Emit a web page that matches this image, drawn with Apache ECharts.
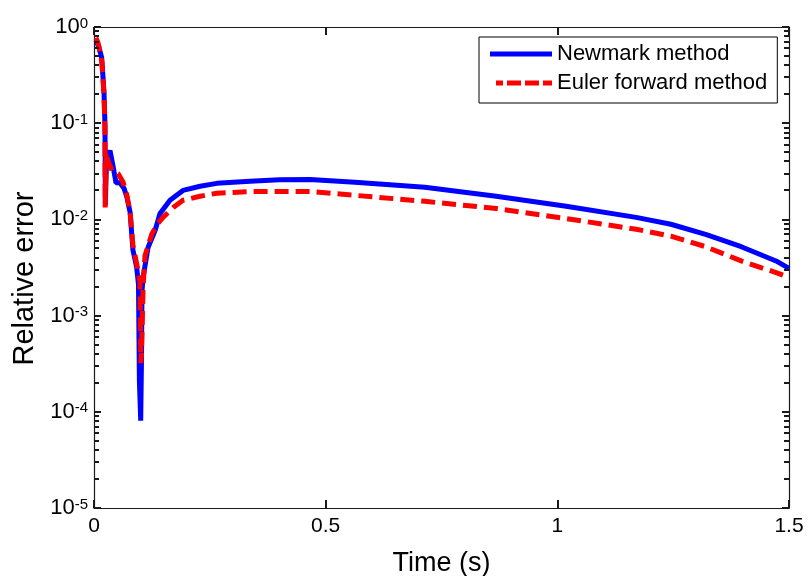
<!DOCTYPE html>
<html>
<head>
<meta charset="utf-8">
<script src="https://cdn.jsdelivr.net/npm/echarts@6/dist/echarts.min.js"></script>
<style>html,body{margin:0;padding:0;background:#fff}#chart{width:808px;height:576px}</style>
</head>
<body>
<div id="chart"></div>
<script>
// ---- data ----
const seriesNames = ['Newmark method', 'Euler forward method'];
const newmarkTime = [0.004,0.008,0.012,0.0166,0.0216,0.0237,0.0245,0.0255,0.027,0.0345,0.041,0.0475,0.056,0.065,0.071,0.078,0.084,0.092,0.096,0.098,0.1008,0.1025,0.1036,0.106,0.1166,0.132,0.1425,0.164,0.192,0.229,0.265,0.337,0.40,0.466,0.563,0.714,0.868,1.019,1.17,1.245,1.32,1.397,1.472,1.5];
const newmarkErr  = [0.73,0.66,0.58,0.48,0.21,0.095,0.014,0.014,0.041,0.052,0.036,0.024,0.024,0.021,0.017,0.0118,0.0048,0.0032,0.0021,0.00021,0.000081,0.00035,0.0018,0.0025,0.0051,0.0077,0.0115,0.0158,0.020,0.0221,0.0237,0.0249,0.0258,0.026,0.0243,0.0216,0.0174,0.0137,0.0105,0.0089,0.0070,0.0052,0.0037,0.0031];
const eulerTime = [0.004,0.008,0.011,0.017,0.0216,0.0237,0.0242,0.025,0.026,0.030,0.039,0.052,0.0626,0.071,0.078,0.084,0.093,0.099,0.1012,0.1025,0.106,0.110,0.125,0.138,0.149,0.171,0.192,0.229,0.265,0.337,0.466,0.563,0.714,0.868,1.019,1.17,1.245,1.32,1.397,1.472,1.5];
const eulerErr  = [0.77,0.70,0.62,0.43,0.195,0.085,0.0133,0.0133,0.050,0.041,0.032,0.030,0.0245,0.0178,0.0118,0.0054,0.0033,0.0023,0.00032,0.0004,0.0020,0.0042,0.0071,0.0091,0.0105,0.0133,0.0158,0.0174,0.0187,0.0195,0.0195,0.0178,0.0154,0.013,0.0102,0.0079,0.0067,0.0052,0.0037,0.0028,0.0025];
const xMin = 0, xMax = 1.5, xInterval = 0.5;
const yMin = 1e-5, yMax = 1;
const minorTickValues = [];
for (let e = -5; e < 0; e++) for (let k = 2; k <= 9; k++) minorTickValues.push(k * Math.pow(10, e));

// ---- chart ----
const FONT = '"Liberation Sans", Arial, sans-serif';
const AXC = '#1a1a1a';
const chart = echarts.init(document.getElementById('chart'), null, {renderer: 'canvas'});
const zip = (a, b) => a.map((v, i) => [v, b[i]]);

const yLabel = {
  show: true, margin: 6, fontFamily: FONT,
  formatter: v => '{b|10}{s|' + Math.round(Math.log10(v)) + '}',
  rich: {
    b: {fontSize: 22, fontFamily: FONT, color: '#000', padding: [7, 0, 7, 0], lineHeight: 22},
    s: {fontSize: 15, fontFamily: FONT, color: '#000', verticalAlign: 'top', lineHeight: 15}
  }
};
const tickStyle = {color: AXC, width: 2};

chart.setOption({
  animation: false,
  backgroundColor: '#fff',
  grid: {left: 94, right: 19, top: 27, bottom: 68, containLabel: false, outerBoundsMode: 'none'},
  legend: {
    orient: 'vertical', left: 479, top: 37,
    padding: [6, 10, 9, 11], itemGap: 7, itemWidth: 62, itemHeight: 5,
    backgroundColor: '#fff', borderColor: '#000', borderWidth: 1, borderRadius: 0,
    textStyle: {fontSize: 22, fontFamily: FONT, color: '#000'},
    data: [
      {name: seriesNames[0], icon: 'path://M0,0H62V5H0Z'},
      {name: seriesNames[1], icon: 'path://M6,0H13V5H6Z M17,0H31V5H17Z M35,0H49V5H35Z M53,0H62V5H53Z M0,0H0.01V0.01H0Z'}
    ]
  },
  xAxis: [{
    type: 'value', min: xMin, max: xMax, interval: xInterval, position: 'bottom',
    name: 'Time (s)', nameLocation: 'middle', nameGap: 42,
    nameTextStyle: {fontSize: 27, fontFamily: FONT, color: '#000'},
    axisLine: {show: true, onZero: false, lineStyle: {color: AXC, width: 1.2}},
    axisTick: {show: true, inside: true, length: 8, lineStyle: tickStyle},
    axisLabel: {show: true, fontSize: 21, fontFamily: FONT, color: '#000', margin: 8},
    splitLine: {show: false}
  }, {
    type: 'value', min: xMin, max: xMax, interval: xInterval, position: 'top',
    axisLine: {show: true, onZero: false, lineStyle: {color: AXC, width: 1.2}},
    axisTick: {show: true, inside: true, length: 8, lineStyle: tickStyle},
    axisLabel: {show: false}, splitLine: {show: false}
  }],
  yAxis: [{
    type: 'log', logBase: 10, min: yMin, max: yMax, position: 'left',
    name: 'Relative error', nameLocation: 'middle', nameGap: 55,
    nameTextStyle: {fontSize: 29, fontFamily: FONT, color: '#000', padding: [0, 22, 0, 0]},
    axisLine: {show: true, onZero: false, lineStyle: {color: AXC, width: 1.2}},
    axisTick: {show: true, inside: true, length: 7, lineStyle: tickStyle},
    axisLabel: yLabel, splitLine: {show: false}
  }, {
    type: 'log', logBase: 10, min: yMin, max: yMax, position: 'right',
    axisLine: {show: true, onZero: false, lineStyle: {color: AXC, width: 1.2}},
    axisTick: {show: true, inside: true, length: 7, lineStyle: tickStyle},
    axisLabel: {show: false}, splitLine: {show: false}
  }],
  series: [{
    name: seriesNames[0], type: 'line', xAxisIndex: 0, yAxisIndex: 0,
    data: zip(newmarkTime, newmarkErr), symbol: 'none', showSymbol: false,
    lineStyle: {color: '#0000ff', width: 5, join: 'bevel'}, itemStyle: {color: '#0000ff'},
    z: 2
  }, {
    name: seriesNames[1], type: 'line', xAxisIndex: 0, yAxisIndex: 0,
    data: zip(eulerTime, eulerErr), symbol: 'none', showSymbol: false,
    lineStyle: {color: '#ff0000', width: 5, type: [14, 7]}, itemStyle: {color: '#ff0000'},
    z: 3
  }, {
    name: 'minor ticks', type: 'custom', xAxisIndex: 0, yAxisIndex: 0, silent: true, z: 10,
    data: minorTickValues.map(v => [xMin, v]),
    renderItem: function (params, api) {
      const v = api.value(1);
      const pL = api.coord([xMin, v]);
      const pR = api.coord([xMax, v]);
      const yy = Math.round(pL[1]);
      return {type: 'group', children: [
        {type: 'rect', shape: {x: Math.round(pL[0]), y: yy - 1, width: 5, height: 2}, style: {fill: AXC}},
        {type: 'rect', shape: {x: Math.round(pR[0]) - 5, y: yy - 1, width: 5, height: 2}, style: {fill: AXC}}
      ]};
    }
  }]
});
</script>
</body>
</html>
